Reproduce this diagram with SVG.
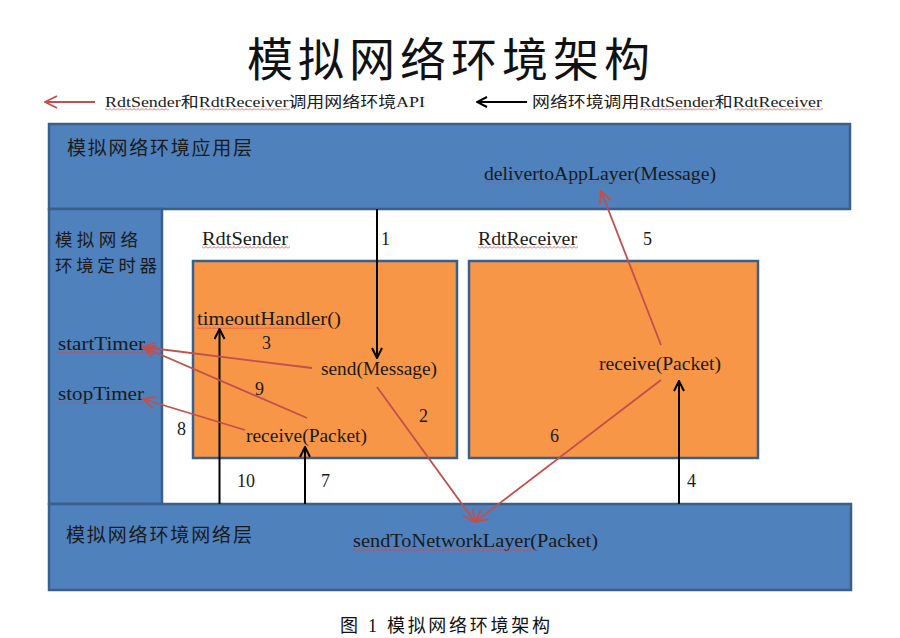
<svg xmlns="http://www.w3.org/2000/svg" width="900" height="638" viewBox="0 0 900 638">
<style>
.box{fill:#4F81BD;stroke:#3A5F8B;stroke-width:2.5}
.obox{fill:#F79646;stroke:#3A5F8B;stroke-width:2.5}
.lat{font-family:"Liberation Serif","Noto Sans CJK SC",serif;font-size:18px;fill:#1a1a1a}
.cjk{font-family:"Noto Sans CJK SC",sans-serif;font-size:19px;fill:#1a1a1a}
.tcjk{font-family:"Noto Sans CJK SC",sans-serif;font-size:17.5px;fill:#1a1a1a}
.leg{font-family:"Liberation Serif","Noto Sans CJK SC",serif;font-size:15px;fill:#1a1a1a}
.blk{stroke:#000;stroke-width:2;fill:none}
.red{stroke:#C0504D;stroke-width:1.8;fill:none}
.wv{fill:url(#wavy)}
</style>
<defs>
<pattern id="wavy" width="4" height="3" patternUnits="userSpaceOnUse">
<path d="M0,2.5 L2,0.5 L4,2.5" fill="none" stroke="#E04040" stroke-width="0.8"/>
</pattern>
<marker id="ab" viewBox="0 0 12 12" refX="11" refY="6" markerWidth="6" markerHeight="6" orient="auto" markerUnits="strokeWidth">
<path d="M1,1 L11,6 L1,11" fill="none" stroke="#000" stroke-width="2"/>
</marker>
<marker id="ar" viewBox="0 0 12 12" refX="11" refY="6" markerWidth="8" markerHeight="8" orient="auto" markerUnits="strokeWidth">
<path d="M1,1 L11,6 L1,11" fill="none" stroke="#C0504D" stroke-width="1.5"/>
</marker>
</defs>
<rect width="900" height="638" fill="#fff"/>
<g id="title">
<text x="247" y="76" font-family="Noto Sans CJK SC,sans-serif" font-size="46" textLength="403" lengthAdjust="spacing" fill="#111">模拟网络环境架构</text>
</g>
<g id="legend">
<line x1="95" y1="102" x2="45" y2="102" class="red" marker-end="url(#ar)"/>
<text x="105" y="107" class="leg" textLength="320" lengthAdjust="spacingAndGlyphs">RdtSender和RdtReceiver调用网络环境API</text>
<rect x="105" y="108" width="64" height="3" class="wv"/>
<rect x="200" y="108" width="90" height="3" class="wv"/>
<line x1="527" y1="102" x2="477" y2="102" class="blk" marker-end="url(#ab)"/>
<text x="532" y="107" class="leg" textLength="290" lengthAdjust="spacingAndGlyphs">网络环境调用RdtSender和RdtReceiver</text>
<rect x="640" y="108" width="77" height="3" class="wv"/>
<rect x="735" y="108" width="88" height="3" class="wv"/>
</g>
<g id="app-layer">
<rect x="49" y="124" width="801" height="85" class="box"/>
<text x="67" y="155" class="cjk" textLength="185" lengthAdjust="spacing">模拟网络环境应用层</text>
<text x="484" y="180" class="lat" textLength="232" lengthAdjust="spacingAndGlyphs">delivertoAppLayer(Message)</text>
<rect x="484" y="181" width="153" height="3" class="wv"/>
</g>
<g id="timer">
<rect x="49" y="209" width="113" height="295" class="box"/>
<text x="55" y="246" class="tcjk" textLength="83" lengthAdjust="spacing">模拟网络</text>
<text x="55" y="272" class="tcjk" textLength="102" lengthAdjust="spacing">环境定时器</text>
<text x="58" y="350" class="lat" textLength="87" lengthAdjust="spacingAndGlyphs">startTimer</text>
<rect x="58" y="351" width="87" height="3" class="wv"/>
<text x="58" y="400" class="lat" textLength="86" lengthAdjust="spacingAndGlyphs">stopTimer</text>
<rect x="58" y="401" width="86" height="3" class="wv"/>
</g>
<g id="network-layer">
<rect x="49" y="504" width="802" height="86" class="box"/>
<text x="66" y="542" class="cjk" textLength="186" lengthAdjust="spacing">模拟网络环境网络层</text>
<text x="353" y="547" class="lat" textLength="245" lengthAdjust="spacingAndGlyphs">sendToNetworkLayer(Packet)</text>
<rect x="353" y="548" width="183" height="3" class="wv"/>
</g>
<g id="rdt-sender">
<text x="202" y="245" class="lat" textLength="86" lengthAdjust="spacingAndGlyphs">RdtSender</text>
<rect x="202" y="246" width="88" height="3" class="wv"/>
<rect x="193" y="261" width="264" height="197" class="obox"/>
<text x="197" y="325" class="lat" textLength="144" lengthAdjust="spacingAndGlyphs">timeoutHandler()</text>
<rect x="197" y="326" width="125" height="3" class="wv"/>
<text x="321" y="375" class="lat" textLength="116" lengthAdjust="spacingAndGlyphs">send(Message)</text>
<text x="246" y="442" class="lat" textLength="121" lengthAdjust="spacingAndGlyphs">receive(Packet)</text>
</g>
<g id="rdt-receiver">
<text x="478" y="245" class="lat" textLength="99" lengthAdjust="spacingAndGlyphs">RdtReceiver</text>
<rect x="478" y="246" width="100" height="3" class="wv"/>
<rect x="469" y="261" width="289" height="197" class="obox"/>
<text x="599" y="370" class="lat" textLength="122" lengthAdjust="spacingAndGlyphs">receive(Packet)</text>
</g>
<g id="connectors">
<line x1="377" y1="209" x2="377" y2="358" class="blk" marker-end="url(#ab)"/>
<line x1="219.5" y1="504" x2="219.5" y2="329" class="blk" marker-end="url(#ab)"/>
<line x1="305" y1="504" x2="305" y2="447" class="blk" marker-end="url(#ab)"/>
<line x1="679" y1="504" x2="679" y2="381" class="blk" marker-end="url(#ab)"/>
<line x1="312" y1="368" x2="143" y2="347" class="red" marker-end="url(#ar)"/>
<line x1="307" y1="418" x2="143" y2="347" class="red" marker-end="url(#ar)"/>
<line x1="245" y1="430" x2="143" y2="399" class="red" marker-end="url(#ar)"/>
<line x1="377" y1="387" x2="475" y2="522" class="red" marker-end="url(#ar)"/>
<line x1="661" y1="380" x2="475" y2="522" class="red" marker-end="url(#ar)"/>
<line x1="661" y1="345" x2="601" y2="191" class="red" marker-end="url(#ar)"/>
<text x="381" y="245" class="lat">1</text>
<text x="255" y="395" class="lat">9</text>
<text x="262" y="349" class="lat">3</text>
<text x="419" y="422" class="lat">2</text>
<text x="177" y="435" class="lat">8</text>
<text x="237" y="487" class="lat">10</text>
<text x="321" y="487" class="lat">7</text>
<text x="643" y="245" class="lat">5</text>
<text x="550" y="442" class="lat">6</text>
<text x="687" y="487" class="lat">4</text>
</g>
<g id="caption">
<text x="340" y="632" font-family="Liberation Serif,Noto Sans CJK SC,serif" font-size="18" textLength="210" lengthAdjust="spacing" fill="#111">图 1  模拟网络环境架构</text>
</g>
</svg>
